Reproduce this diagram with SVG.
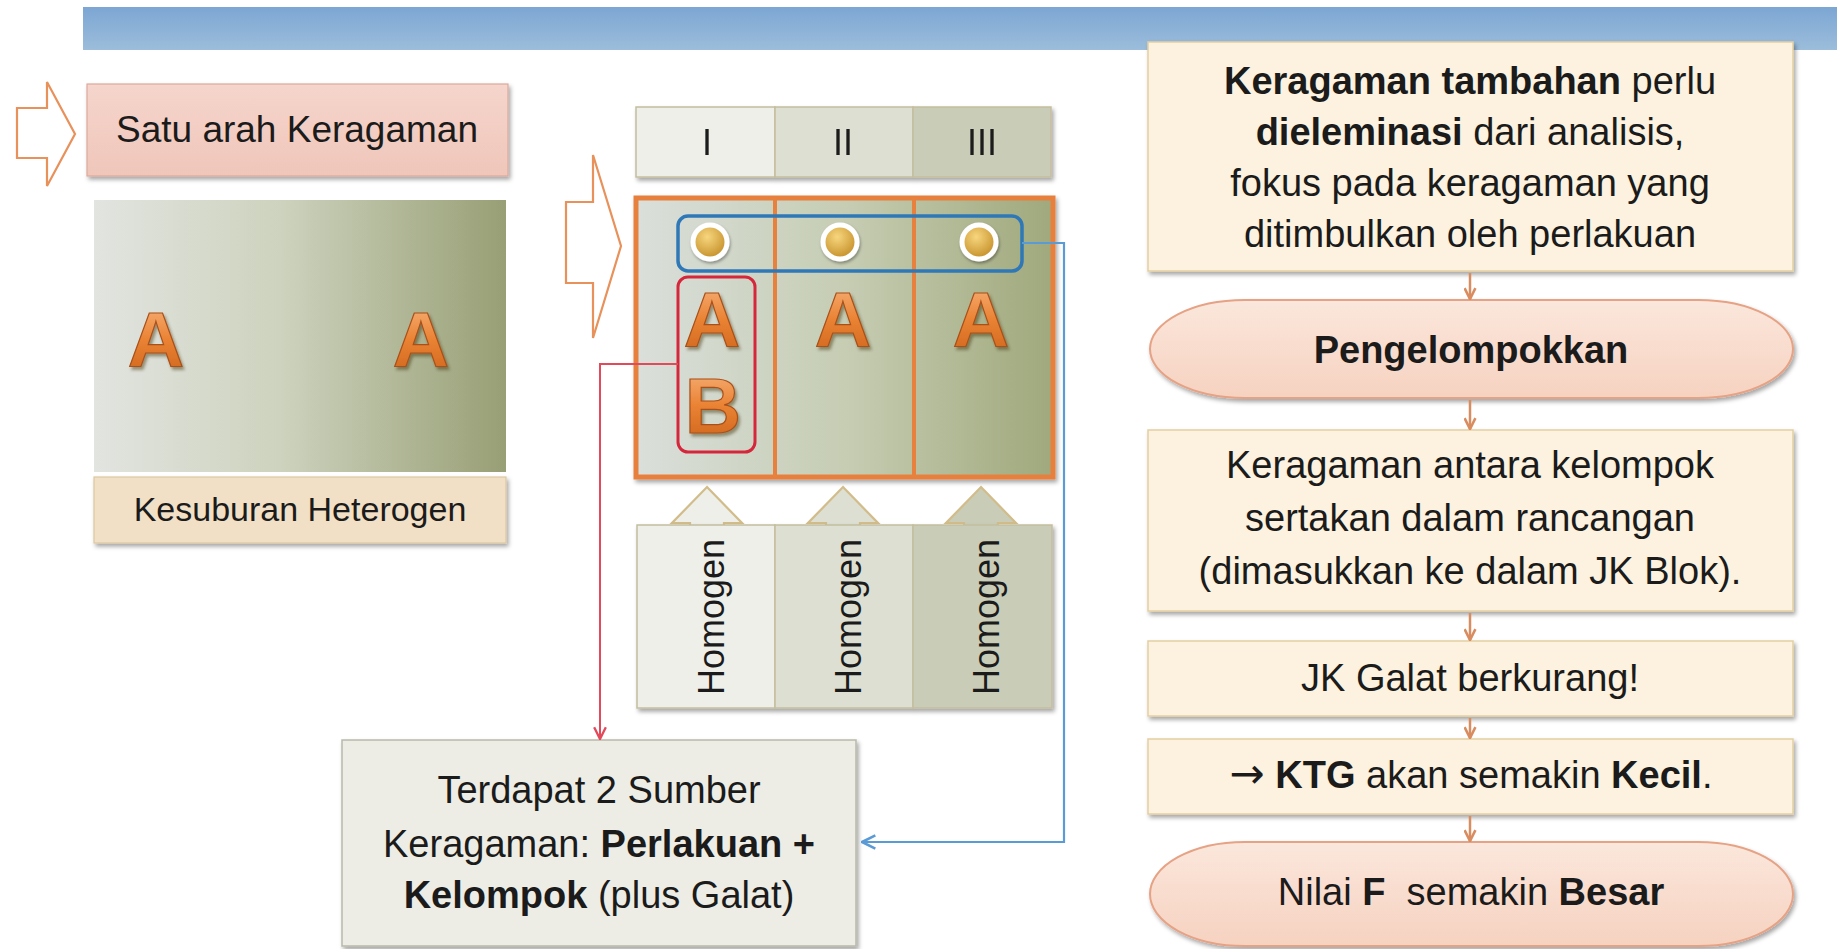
<svg xmlns="http://www.w3.org/2000/svg" width="1837" height="949" viewBox="0 0 1837 949">
<defs>
<style>
.t{font-family:"Liberation Sans",Arial,sans-serif;fill:#1b1b1b;}
.b{font-weight:bold;}
.big{font-family:"Liberation Sans",Arial,sans-serif;font-weight:bold;font-size:78px;fill:url(#gLetter);stroke:#A9501A;stroke-width:1.2;}
.hollow{fill:#FFFFFF;stroke:#E8915A;stroke-width:2.2;stroke-linejoin:miter;}
.col1{fill:#EEEFE9;}
.col2{fill:#DCDFD2;}
.col3{fill:#C9CCB7;}
.cell{stroke:#C4BE9E;stroke-width:1.5;}
.cream{fill:#FCF2DF;stroke:#E3CFA2;stroke-width:1.5;}
.pill{fill:url(#gPill);stroke:#E6A285;stroke-width:2;}
.flow{fill:none;stroke:#D98C5F;stroke-width:2.5;}
.upar{stroke:#D2BC8A;stroke-width:2.2;}
</style>
<linearGradient id="gHdr" x1="0" y1="0" x2="0" y2="1"><stop offset="0" stop-color="#7CA6D3"/><stop offset="1" stop-color="#9CBDDB"/></linearGradient>
<linearGradient id="gField" x1="0" y1="0" x2="1" y2="0"><stop offset="0" stop-color="#E2E4E0"/><stop offset="0.45" stop-color="#CDD3BE"/><stop offset="1" stop-color="#989F75"/></linearGradient>
<linearGradient id="gGrid" x1="0" y1="0" x2="1" y2="0"><stop offset="0" stop-color="#DADFDB"/><stop offset="0.5" stop-color="#C6CDB3"/><stop offset="1" stop-color="#A0A87C"/></linearGradient>
<linearGradient id="gLetter" x1="0" y1="0" x2="0" y2="1"><stop offset="0" stop-color="#F8B985"/><stop offset="0.5" stop-color="#EA8233"/><stop offset="1" stop-color="#C85F18"/></linearGradient>
<radialGradient id="gBall" cx="0.42" cy="0.35" r="0.7"><stop offset="0" stop-color="#F7D67E"/><stop offset="1" stop-color="#C18A22"/></radialGradient>
<linearGradient id="gPill" x1="0" y1="0" x2="0" y2="1"><stop offset="0" stop-color="#FBE7DC"/><stop offset="1" stop-color="#F6D2C0"/></linearGradient>
<linearGradient id="gSatu" x1="0" y1="0" x2="0" y2="1"><stop offset="0" stop-color="#F5D5CC"/><stop offset="1" stop-color="#F0C6BA"/></linearGradient>
<filter id="sh" x="-5%" y="-10%" width="115%" height="130%"><feDropShadow dx="2" dy="3" stdDeviation="2.2" flood-color="#000" flood-opacity="0.35"/></filter>
<filter id="shL" x="-20%" y="-20%" width="150%" height="150%"><feDropShadow dx="2" dy="3" stdDeviation="1.6" flood-color="#3A2A10" flood-opacity="0.45"/></filter>
<filter id="shB" x="-40%" y="-40%" width="180%" height="180%"><feDropShadow dx="1" dy="2" stdDeviation="1.5" flood-color="#000" flood-opacity="0.35"/></filter>
<marker id="mRed" viewBox="0 0 12 12" refX="11" refY="6" markerWidth="14" markerHeight="14" markerUnits="userSpaceOnUse" orient="auto"><path d="M1,1 L11,6 L1,11" fill="none" stroke="#E24A5C" stroke-width="2"/></marker>
<marker id="mBlue" viewBox="0 0 12 12" refX="11" refY="6" markerWidth="16" markerHeight="16" markerUnits="userSpaceOnUse" orient="auto"><path d="M1,1 L11,6 L1,11" fill="none" stroke="#5B9BD5" stroke-width="2"/></marker>
<marker id="mOr" viewBox="0 0 12 12" refX="11" refY="6" markerWidth="13" markerHeight="13" markerUnits="userSpaceOnUse" orient="auto"><path d="M1,1 L11,6 L1,11" fill="none" stroke="#D98C5F" stroke-width="2.4"/></marker>
</defs>
<rect width="1837" height="949" fill="#FFFFFF"/>
<g id="header-bar"><rect x="83" y="7" width="1754" height="43" fill="url(#gHdr)"/></g>

<g id="arrow-left"><polygon class="hollow" points="17,108 47,108 47,82 75,134 47,186 47,158 17,158"/></g>
<g id="satu-arah"><rect x="87" y="84" width="421" height="92" fill="url(#gSatu)" stroke="#DDA99B" stroke-width="1.2" filter="url(#sh)"/><text class="t" x="297" y="142" font-size="37" text-anchor="middle">Satu arah Keragaman</text></g>
<g id="field"><rect x="94" y="200" width="412" height="272" fill="url(#gField)"/><text class="big" x="156" y="367" text-anchor="middle" filter="url(#shL)">A</text><text class="big" x="421" y="367" text-anchor="middle" filter="url(#shL)">A</text></g>
<g id="kesuburan"><rect x="94" y="477" width="412" height="66" fill="#F1E0C5" stroke="#DCC7A0" stroke-width="1.2" filter="url(#sh)"/><text class="t" x="300" y="521" font-size="34" text-anchor="middle">Kesuburan Heterogen</text></g>

<g id="arrow-mid"><polygon class="hollow" points="566,202 593,202 593,155 621,246 593,338 593,283 566,283"/></g>
<g id="block-header" filter="url(#sh)"><rect class="col1 cell" x="636" y="107" width="139" height="70"/><rect class="col2 cell" x="775" y="107" width="138" height="70"/><rect class="col3 cell" x="913" y="107" width="138" height="70"/><text class="t" x="707" y="155" font-size="36" text-anchor="middle">I</text><text class="t" x="843" y="155" font-size="36" text-anchor="middle">II</text><text class="t" x="982" y="155" font-size="36" text-anchor="middle">III</text></g>
<g id="grid"><rect x="636" y="198" width="417" height="279" fill="url(#gGrid)" stroke="#E8803E" stroke-width="5" filter="url(#sh)"/><line x1="775" y1="198" x2="775" y2="477" stroke="#E8803E" stroke-width="4"/><line x1="914" y1="198" x2="914" y2="477" stroke="#E8803E" stroke-width="4"/>
<text class="big" x="712" y="347" text-anchor="middle" filter="url(#shL)">A</text><text class="big" x="843" y="347" text-anchor="middle" filter="url(#shL)">A</text><text class="big" x="981" y="347" text-anchor="middle" filter="url(#shL)">A</text><text class="big" x="713" y="433" text-anchor="middle" filter="url(#shL)">B</text></g>
<g id="treatments"><rect x="678" y="216" width="344" height="55" rx="10" fill="none" stroke="#2F78B8" stroke-width="3.5"/>
<g filter="url(#shB)"><circle cx="710" cy="242" r="17" fill="url(#gBall)" stroke="#FFFFFF" stroke-width="5"/><circle cx="840" cy="242" r="17" fill="url(#gBall)" stroke="#FFFFFF" stroke-width="5"/><circle cx="979" cy="242" r="17" fill="url(#gBall)" stroke="#FFFFFF" stroke-width="5"/></g></g>
<g id="group-AB"><rect x="678" y="277" width="77" height="175" rx="10" fill="none" stroke="#D5263C" stroke-width="3"/></g>

<g id="homogen">
<polygon class="col1 upar" points="707,487 742,523 724,523 724,527 690,527 690,523 672,523"/>
<polygon class="col2 upar" points="843,487 878,523 860,523 860,527 826,527 826,523 808,523"/>
<polygon class="col3 upar" points="981,487 1016,523 998,523 998,527 964,527 964,523 946,523"/>
<g filter="url(#sh)"><rect class="col1 cell" x="637" y="525" width="138" height="183"/><rect class="col2 cell" x="775" y="525" width="138" height="183"/><rect class="col3 cell" x="913" y="525" width="139" height="183"/></g>
<text class="t" transform="translate(724,617) rotate(-90)" font-size="36" text-anchor="middle">Homogen</text>
<text class="t" transform="translate(861,617) rotate(-90)" font-size="36" text-anchor="middle">Homogen</text>
<text class="t" transform="translate(999,617) rotate(-90)" font-size="36" text-anchor="middle">Homogen</text>
</g>

<g id="sumber"><rect x="342" y="740" width="514" height="206" fill="#EDEDE5" stroke="#B9B9A9" stroke-width="1.5" filter="url(#sh)"/>
<text class="t" x="599" y="803" font-size="38" text-anchor="middle">Terdapat 2 Sumber</text>
<text class="t" x="599" y="857" font-size="38" text-anchor="middle">Keragaman: <tspan class="b">Perlakuan +</tspan></text>
<text class="t" x="599" y="908" font-size="38" text-anchor="middle"><tspan class="b">Kelompok</tspan> (plus Galat)</text></g>

<g id="flow-1"><rect class="cream" x="1148" y="42" width="645" height="229" filter="url(#sh)"/>
<text class="t" x="1470" y="94" font-size="38" text-anchor="middle"><tspan class="b">Keragaman tambahan</tspan> perlu</text>
<text class="t" x="1470" y="145" font-size="38" text-anchor="middle"><tspan class="b">dieleminasi</tspan> dari analisis,</text>
<text class="t" x="1470" y="196" font-size="38" text-anchor="middle">fokus pada keragaman yang</text>
<text class="t" x="1470" y="247" font-size="38" text-anchor="middle">ditimbulkan oleh perlakuan</text></g>
<g id="flow-2"><rect class="pill" x="1150" y="300" width="643" height="98" rx="95" ry="49" filter="url(#sh)"/><text class="t b" x="1471" y="363" font-size="38" text-anchor="middle">Pengelompokkan</text></g>
<g id="flow-3"><rect class="cream" x="1148" y="430" width="645" height="181" filter="url(#sh)"/>
<text class="t" x="1470" y="478" font-size="38" text-anchor="middle">Keragaman antara kelompok</text>
<text class="t" x="1470" y="531" font-size="38" text-anchor="middle">sertakan dalam rancangan</text>
<text class="t" x="1470" y="584" font-size="38" text-anchor="middle">(dimasukkan ke dalam JK Blok).</text></g>
<g id="flow-4"><rect class="cream" x="1148" y="641" width="645" height="75" filter="url(#sh)"/><text class="t" x="1470" y="691" font-size="38" text-anchor="middle">JK Galat berkurang!</text></g>
<g id="flow-5"><rect class="cream" x="1148" y="739" width="645" height="75" filter="url(#sh)"/><text class="t" x="1471" y="788" font-size="38" text-anchor="middle"><tspan font-family="'DejaVu Sans',sans-serif" font-size="42">→</tspan> <tspan class="b">KTG</tspan> akan semakin <tspan class="b">Kecil</tspan>.</text></g>
<g id="flow-6"><rect class="pill" x="1150" y="842" width="643" height="104" rx="95" ry="52" filter="url(#sh)"/><text class="t" x="1471" y="905" font-size="38" text-anchor="middle" xml:space="preserve">Nilai <tspan class="b">F</tspan>  semakin <tspan class="b">Besar</tspan></text></g>

<g id="connectors">
<path d="M678,364 H600 V739" fill="none" stroke="#E24A5C" stroke-width="2" marker-end="url(#mRed)"/>
<path d="M1022,243 H1064 V842 H862" fill="none" stroke="#5B9BD5" stroke-width="2.2" marker-end="url(#mBlue)"/>
<path class="flow" d="M1470,273 V299" marker-end="url(#mOr)"/>
<path class="flow" d="M1470,400 V429" marker-end="url(#mOr)"/>
<path class="flow" d="M1470,613 V640" marker-end="url(#mOr)"/>
<path class="flow" d="M1470,718 V738" marker-end="url(#mOr)"/>
<path class="flow" d="M1470,816 V841" marker-end="url(#mOr)"/>
</g>
</svg>
